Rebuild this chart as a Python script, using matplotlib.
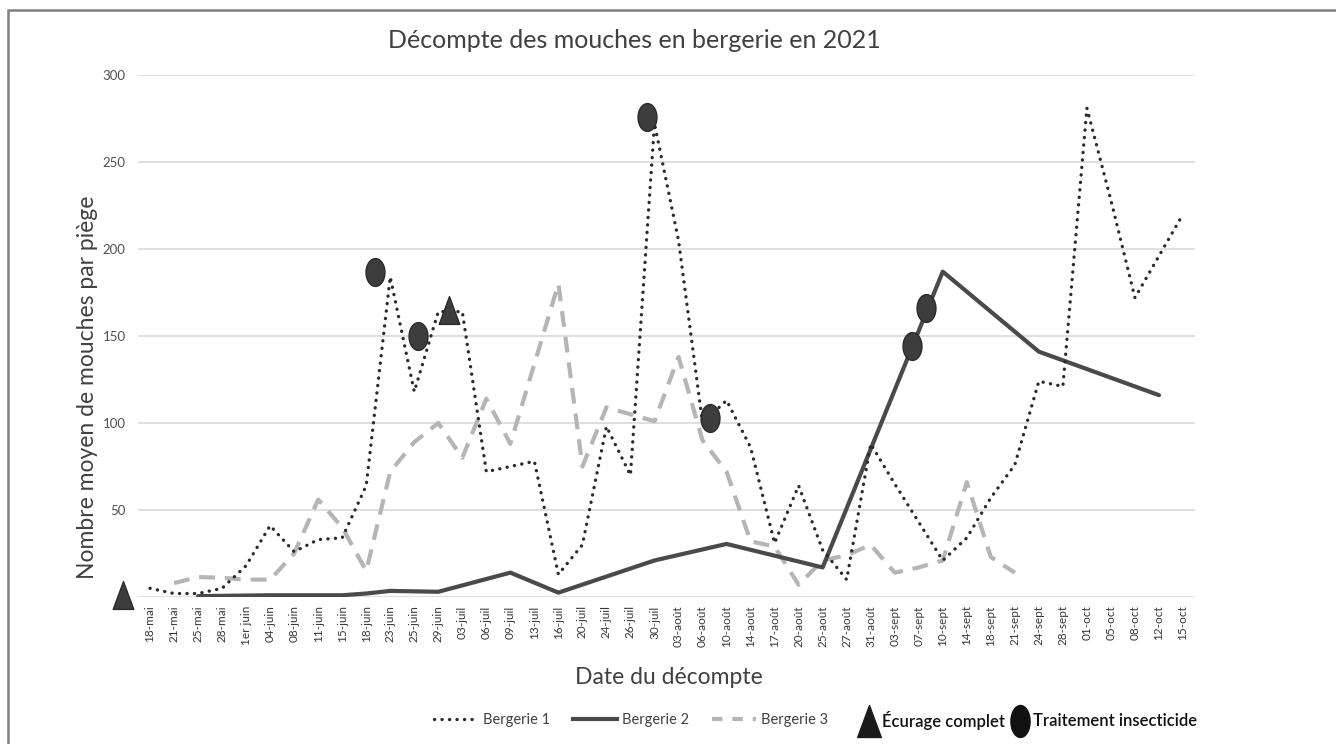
import numpy as np
import matplotlib
matplotlib.use("Agg")
import matplotlib.pyplot as plt
from matplotlib.path import Path
from matplotlib.lines import Line2D
from matplotlib.patches import Rectangle

plt.rcParams['font.family'] = ['Lato', 'DejaVu Sans']

dates = ['18-mai', '21-mai', '25-mai', '28-mai', '1er juin', '04-juin', '08-juin',
         '11-juin', '15-juin', '18-juin', '23-juin', '25-juin', '29-juin', '03-juil',
         '06-juil', '09-juil', '13-juil', '16-juil', '20-juil', '24-juil', '26-juil',
         '30-juil', '03-août', '06-août', '10-août', '14-août', '17-août', '20-août',
         '25-août', '27-août', '31-août', '03-sept', '07-sept', '10-sept', '14-sept',
         '18-sept', '21-sept', '24-sept', '28-sept', '01-oct', '05-oct', '08-oct',
         '12-oct', '15-oct']

bergerie1 = [5, 2, 2, 5, 18, 41, 26, 33, 34, 64, 184, 118, 164, 164, 72, 75, 78, 13,
             30, 98, 70, 272, 205, 100, 113, 86, 31, 64, 27, 10, 88, 65, 43, 21, 34,
             57, 76, 124, 121, 281, 228, 172, 196, 220]

bergerie2 = [None, None, 0.5, None, None, 1, None, None, 1, 2, 3.5, None, 3, None,
             None, 14, None, 2.5, None, None, None, 21, None, None, 30.5, None, None,
             None, 17, None, None, None, None, 187, None, None, None, 141, None, None,
             None, None, 116, None]

bergerie3 = [None, 8, 11.5, 11, 10, 10, 25, 56, 40, 15, 72, 89, 100, 80, 114, 88, 134,
             180, 75, 109, 105, 101, 138, 90, 72, 32, 29, 7, 21, 24, 30, 14, 17, 21, 66,
             23, 14, None, None, None, None, None, None, None]

# evenements (position sur l'axe des dates, valeur)
ecurage_x = [-1.13, 12.45]
ecurage_y = [1, 165]
traitement_x = [9.35, 11.17, 20.7, 23.3, 31.7, 32.3]
traitement_y = [187, 150, 276, 103, 144, 166]

W, H = 1336, 744
fig = plt.figure(figsize=(W / 100, H / 100), dpi=100)
ax = fig.add_axes([138 / W, 1 - 597 / H, (1195 - 138) / W, (597 - 75) / H])

x = np.arange(len(dates))
b2 = np.array([np.nan if v is None else v for v in bergerie2], dtype=float)
b3 = np.array([np.nan if v is None else v for v in bergerie3], dtype=float)
m2 = ~np.isnan(b2)
m3 = ~np.isnan(b3)

ax.plot(x[m3], b3[m3], color='#b5b5b5', lw=3, linestyle=(0, (3.8, 2.4)), zorder=2)
ax.plot(x[m2], b2[m2], color='#4a4a4a', lw=3, solid_capstyle='round', zorder=3)
ax.plot(x, bergerie1, color='#2a2a2a', lw=2.4, linestyle=(0, (0.05, 2.2)),
        dash_capstyle='round', zorder=4)

t = np.linspace(0, 2 * np.pi, 60)
ellipse = Path(np.column_stack([0.68 * np.cos(t), np.sin(t)]), closed=True)
ellipse_leg = Path(np.column_stack([0.6 * np.cos(t), np.sin(t)]), closed=True)
triangle = Path([(-0.37, -0.5), (0.37, -0.5), (0, 0.5), (-0.37, -0.5)], closed=True)

ax.plot(traitement_x, traitement_y, linestyle='none', marker=ellipse, markersize=20,
        color='#3d3d3d', markeredgecolor='#2a2a2a', zorder=5, clip_on=False)
ax.plot(ecurage_x, ecurage_y, linestyle='none', marker=triangle, markersize=20,
        color='#3d3d3d', markeredgecolor='#2a2a2a', zorder=5, clip_on=False)

ax.set_xlim(-0.5, len(dates) - 0.5)
ax.set_ylim(0, 300)
ax.set_yticks([50, 100, 150, 200, 250, 300])
ax.set_xticks(x)
ax.set_xticklabels(dates, rotation=90, fontsize=8.5, color='#383838')
ax.tick_params(axis='y', labelsize=9.5, labelcolor='#505050', length=0, pad=9)
ax.tick_params(axis='x', length=0, pad=6)
ax.grid(axis='y', color='#d9d9d9', lw=1.2)
ax.axhline(0, color='#d9d9d9', lw=1.2, zorder=1)
for s in ax.spines.values():
    s.set_visible(False)
ax.set_axisbelow(True)

fig.text(634 / W, 1 - 40 / H, 'Décompte des mouches en bergerie en 2021',
         ha='center', va='center', fontsize=18, color='#404040')
fig.text(88 / W, 1 - 387 / H, 'Nombre moyen de mouches par piège', rotation=90,
         ha='center', va='center', fontsize=16.5, color='#404040')
fig.text(669 / W, 1 - 677 / H, 'Date du décompte', ha='center', va='center',
         fontsize=16.5, color='#404040')

# cadre
fig.add_artist(Rectangle((8 / W, -0.1), 1.2, 1 - 10 / H + 0.1, transform=fig.transFigure,
                         fill=False, edgecolor='#808080', lw=1.8))

h_lines = [
    Line2D([], [], color='#2a2a2a', lw=2.4, linestyle=(0, (0.05, 2.2)), dash_capstyle='round'),
    Line2D([], [], color='#4a4a4a', lw=3),
    Line2D([], [], color='#b5b5b5', lw=3, linestyle=(0, (2.5, 2.4))),
]
leg1 = fig.legend(h_lines, ['Bergerie 1', 'Bergerie 2', 'Bergerie 3'], loc='center',
                  bbox_to_anchor=(631 / W, 1 - 720 / H), ncol=3, frameon=False,
                  fontsize=10.5, handlelength=3.0, handletextpad=0.35, columnspacing=1.6)
for txt in leg1.get_texts():
    txt.set_color('#404040')

h_marks = [
    Line2D([], [], linestyle='none', marker=triangle, markersize=23, color='#1a1a1a'),
    Line2D([], [], linestyle='none', marker=ellipse_leg, markersize=23, color='#111111'),
]
leg2 = fig.legend(h_marks, ['Écurage complet', 'Traitement insecticide'], loc='center',
                  bbox_to_anchor=(1028 / W, 1 - 720 / H), ncol=2, frameon=False,
                  fontsize=12, handlelength=1.2, handletextpad=0.2, columnspacing=0.3)
for txt in leg2.get_texts():
    txt.set_color('#111111')
    txt.set_fontweight('semibold')

fig.savefig('out.png', dpi=100, facecolor='white')
